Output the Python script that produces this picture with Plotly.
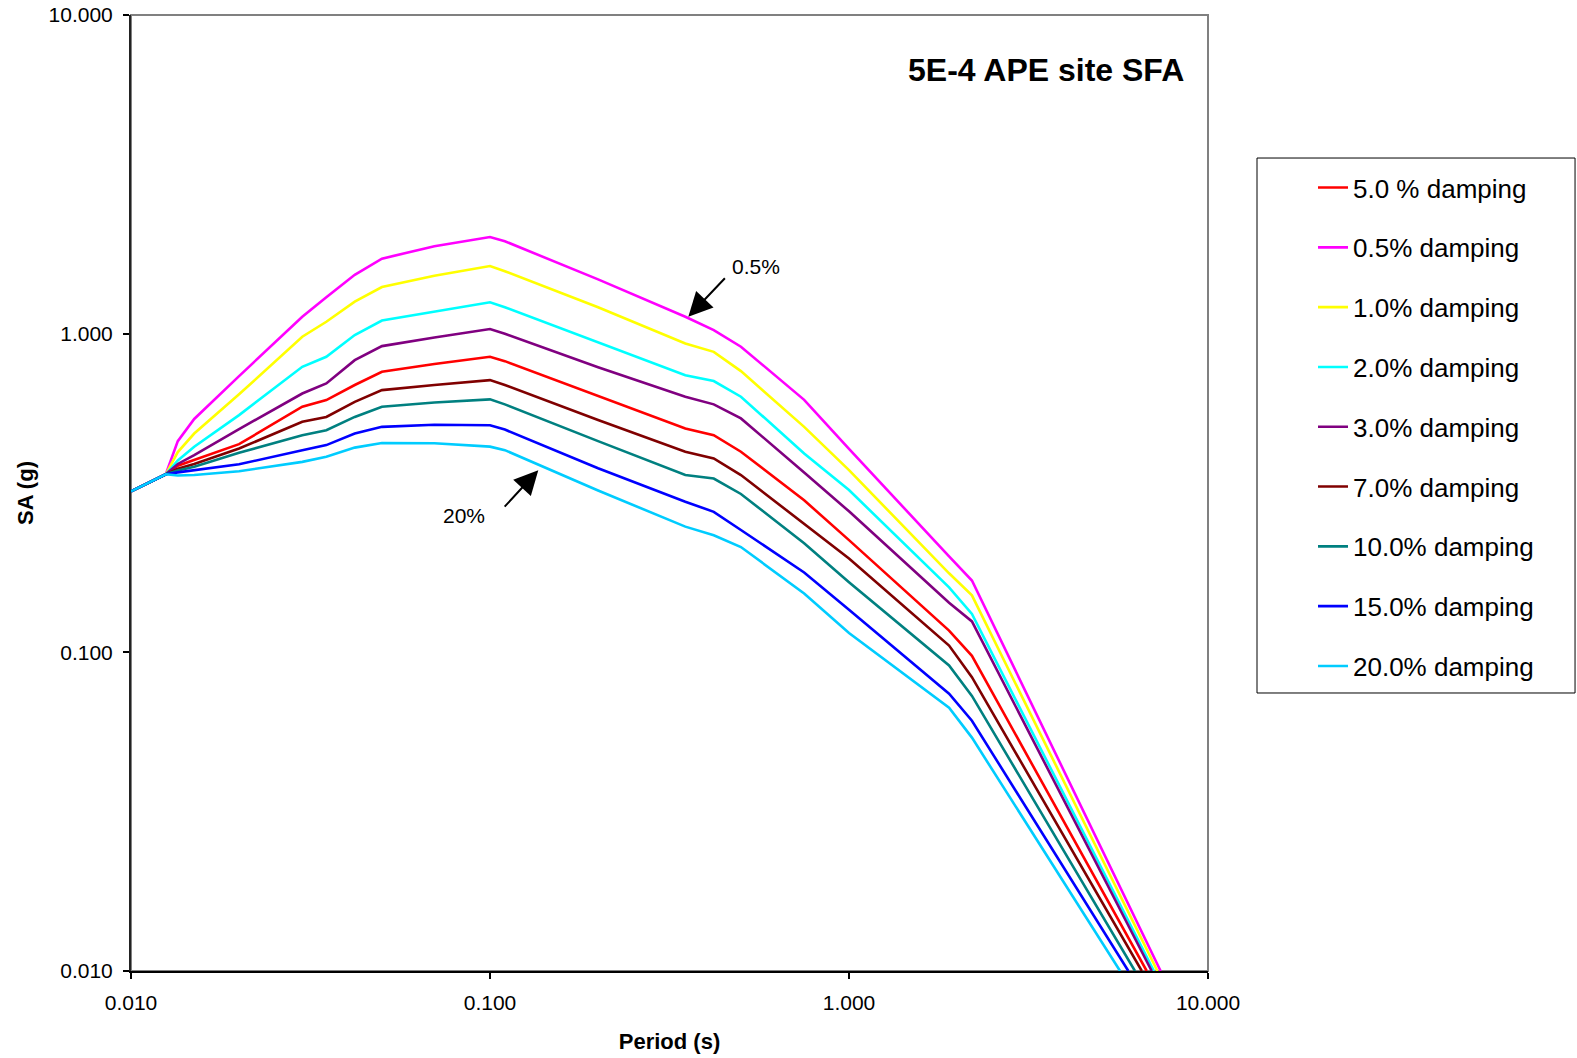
import plotly.graph_objects as go

# Period grid (s) shared by all curves; each curve then ends where it reaches 0.010 g
period = [0.01, 0.0125, 0.0135, 0.015, 0.02, 0.03, 0.035, 0.042, 0.05, 0.07, 0.1, 0.11,
          0.2, 0.35, 0.42, 0.5, 0.75, 1.0, 1.9, 2.2]

sa_5_0 = [0.32, 0.362, 0.385, 0.401, 0.450, 0.590, 0.619, 0.69, 0.759, 0.803, 0.846, 0.82,
          0.637, 0.504, 0.48, 0.426, 0.30, 0.225, 0.117, 0.0975]
sa_0_5 = [0.32, 0.362, 0.46, 0.54, 0.736, 1.13, 1.30, 1.53, 1.72, 1.88, 2.01, 1.95,
          1.48, 1.13, 1.026, 0.91, 0.62, 0.435, 0.20, 0.168]
sa_1_0 = [0.32, 0.362, 0.425, 0.486, 0.645, 0.978, 1.09, 1.26, 1.40, 1.52, 1.63, 1.57,
          1.21, 0.932, 0.877, 0.763, 0.51, 0.373, 0.177, 0.151]
sa_2_0 = [0.32, 0.362, 0.40, 0.442, 0.555, 0.787, 0.846, 0.99, 1.10, 1.17, 1.254, 1.21,
          0.941, 0.741, 0.71, 0.634, 0.421, 0.323, 0.16, 0.132]
sa_3_0 = [0.32, 0.362, 0.39, 0.416, 0.502, 0.649, 0.698, 0.826, 0.914, 0.973, 1.034, 1.0,
          0.785, 0.634, 0.60, 0.542, 0.367, 0.277, 0.143, 0.125]
sa_7_0 = [0.32, 0.362, 0.377, 0.39, 0.436, 0.529, 0.548, 0.611, 0.665, 0.69, 0.715, 0.69,
          0.536, 0.426, 0.406, 0.36, 0.254, 0.197, 0.105, 0.0836]
sa_10_0 = [0.32, 0.362, 0.372, 0.382, 0.423, 0.48, 0.498, 0.548, 0.59, 0.608, 0.622, 0.60,
           0.460, 0.360, 0.351, 0.314, 0.22, 0.166, 0.091, 0.073]
sa_15_0 = [0.32, 0.362, 0.367, 0.373, 0.389, 0.431, 0.447, 0.486, 0.51, 0.518, 0.516, 0.50,
           0.378, 0.297, 0.276, 0.242, 0.178, 0.136, 0.0742, 0.061]
sa_20_0 = [0.32, 0.362, 0.359, 0.36, 0.37, 0.396, 0.411, 0.439, 0.454, 0.453, 0.442, 0.431,
           0.322, 0.248, 0.233, 0.214, 0.153, 0.115, 0.067, 0.054]

# period at which each curve reaches the bottom of the chart (SA = 0.010 g)
end_period = [6.75, 7.38, 7.23, 7.07, 6.97, 6.54, 6.26, 6.00, 5.69]
end_sa = 0.01

labels = ["5.0 % damping", "0.5% damping", "1.0% damping", "2.0% damping",
          "3.0% damping", "7.0% damping", "10.0% damping", "15.0% damping",
          "20.0% damping"]
colors = ["#FF0000", "#FF00FF", "#FFFF00", "#00FFFF", "#800080", "#800000",
          "#008080", "#0000FF", "#00CCFF"]
values = [sa_5_0, sa_0_5, sa_1_0, sa_2_0, sa_3_0, sa_7_0, sa_10_0, sa_15_0, sa_20_0]

x_ticks = [0.01, 0.1, 1, 10]
x_ticktext = ["0.010", "0.100", "1.000", "10.000"]
y_ticks = [0.01, 0.1, 1, 10]
y_ticktext = ["0.010", "0.100", "1.000", "10.000"]

FONT = "Liberation Sans, Arial, sans-serif"

fig = go.Figure()
for lab, col, sa, tend in zip(labels, colors, values, end_period):
    fig.add_trace(go.Scatter(
        x=period + [tend], y=sa + [end_sa], mode="lines", name=lab,
        legendgroup=lab, line=dict(color=col, width=2.6)))

fig.update_layout(
    width=1577, height=1058,
    margin=dict(l=131, r=369, t=15, b=87, autoexpand=False),
    paper_bgcolor="white", plot_bgcolor="white",
    font=dict(family=FONT, color="black"),
    showlegend=True,
    legend=dict(x=1.0975, y=0.844, xanchor="left", yanchor="top",
                font=dict(size=26, family=FONT, color="black"),
                tracegroupgap=23, traceorder="grouped",
                bgcolor="rgba(0,0,0,0)", borderwidth=0),
    xaxis=dict(type="log", range=[-2, 1], tickvals=x_ticks, ticktext=x_ticktext,
               ticks="outside", ticklen=6, tickwidth=1.5, tickcolor="black",
               showline=True, linecolor="black", linewidth=2, automargin=False,
               showgrid=False, zeroline=False, ticklabelstandoff=6,
               tickfont=dict(size=21, family=FONT, color="black"),
               title=dict(text="Period (s)", standoff=20,
                          font=dict(size=22, family=FONT, color="black", weight="bold"))),
    yaxis=dict(type="log", range=[-2, 1], tickvals=y_ticks, ticktext=y_ticktext,
               ticks="outside", ticklen=6, tickwidth=1.5, tickcolor="black",
               showline=True, linecolor="#222222", linewidth=2, automargin=False,
               showgrid=False, zeroline=False, ticklabelstandoff=6,
               tickfont=dict(size=21, family=FONT, color="black"),
               title=dict(text="SA (g)", standoff=9,
                          font=dict(size=22, family=FONT, color="black", weight="bold"))),
    shapes=[
        dict(type="rect", xref="paper", yref="paper", x0=0, y0=0, x1=1, y1=1,
             line=dict(color="#808080", width=2), layer="below"),
        dict(type="rect", xref="paper", yref="paper", x0=1.0455, y0=0.2908,
             x1=1.3408, y1=0.8504, line=dict(color="black", width=1),
             fillcolor="rgba(0,0,0,0)", layer="above"),
    ],
    annotations=[
        dict(text="5E-4 APE site SFA", xref="paper", yref="paper",
             x=0.9795, y=0.942, xanchor="right", yanchor="middle", showarrow=False,
             font=dict(size=32, family=FONT, color="black", weight="bold")),
        dict(text="", x=-0.4476, y=0.0531, xref="x", yref="y", showarrow=True,
             ax=38, ay=-40, arrowhead=2, arrowsize=2.4, arrowwidth=2,
             arrowcolor="black"),
        dict(text="0.5%", x=-0.259, y=0.2107, xref="x", yref="y", showarrow=False,
             font=dict(size=21, family=FONT, color="black")),
        dict(text="", x=-0.8655, y=-0.4283, xref="x", yref="y", showarrow=True,
             ax=-35, ay=38, arrowhead=2, arrowsize=2.4, arrowwidth=2,
             arrowcolor="black"),
        dict(text="20%", x=-1.0724, y=-0.5696, xref="x", yref="y", showarrow=False,
             font=dict(size=21, family=FONT, color="black")),
    ],
)

fig.write_html("out.html")
